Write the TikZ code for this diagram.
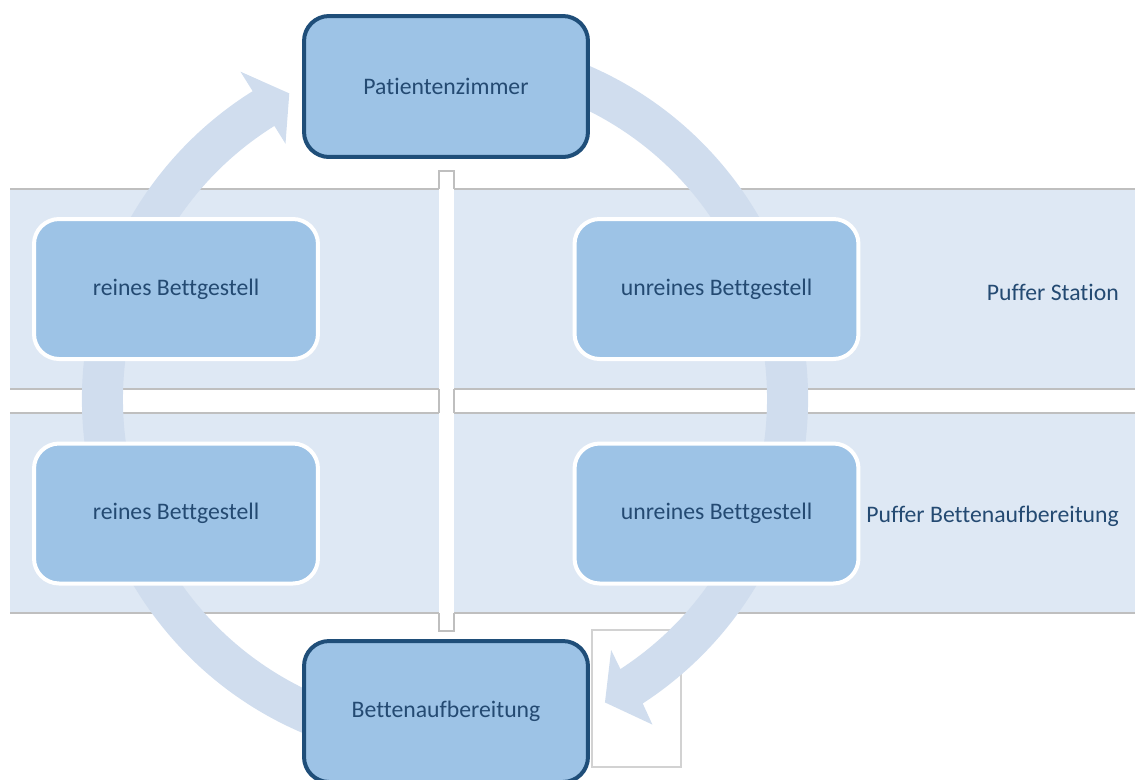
\documentclass[tikz,border=0pt]{standalone}
\usepackage{fontspec}
\setmainfont{Carlito}[Ligatures=NoCommon]
\usetikzlibrary{positioning}
\definecolor{bandblue}{RGB}{222,232,244}
\definecolor{ringblue}{RGB}{208,221,238}
\definecolor{boxblue}{RGB}{157,195,230}
\definecolor{navy}{RGB}{31,78,121}
\definecolor{textnavy}{RGB}{36,74,114}
\definecolor{rulegray}{RGB}{191,191,191}

\begin{document}
\begin{tikzpicture}[x=.02cm,y=-.02cm,
  every node/.style={font=\fontsize{13.5}{16}\selectfont,text=textnavy},
  stationbox/.style={draw=navy,line width=.08cm,fill=boxblue,rounded corners=.5cm,minimum width=5.68cm,minimum height=2.82cm},
  bufferbox/.style={draw=white,line width=.08cm,fill=boxblue,rounded corners=.5cm,minimum width=5.68cm,minimum height=2.8cm},
  rule/.style={draw=rulegray,line width=.6pt}]
\useasboundingbox (0,0) rectangle (1135,779);

% the two buffer bands
\foreach \y in {189,413}{
  \fill[bandblue] (10,\y) rectangle (1135,\y+200);
  \draw[rule] (10,\y)--(1135,\y) (10,\y+200)--(1135,\y+200);
}

% empty frame beside the lower station
\draw[rule,draw=rulegray!70,fill=white] (592,630) rectangle (681,767);

% white divider through the bands
\fill[white] (439,171) rectangle (454,631);
\draw[rule] (439,189)--(439,171)--(454,171)--(454,189);
\draw[rule] (439,613)--(439,631)--(454,631)--(454,613);
\draw[rule] (439,389)--(439,413) (454,389)--(454,413);

% cycle arrows
\begin{scope}[shift={(445,399)}]
\fill[ringblue] (105:363) arc[start angle=105,end angle=238,radius=363]
  --(238:386)--(243:343)--(238:301)--(238:322)
  arc[start angle=238,end angle=105,radius=322]--cycle;
\fill[ringblue] (285:363) arc[start angle=285,end angle=417,radius=363]
  --(417.5:386)--(422.2:343)--(416.5:301)--(417:322)
  arc[start angle=417,end angle=285,radius=322]--cycle;
\end{scope}

\node[stationbox] (zimmer) at (446,86.5) {Patientenzimmer};
\node[stationbox] (aufbereitung) at (446,711.5) {Bettenaufbereitung};

\node[bufferbox] (reinS) at (176,289) {reines Bettgestell};
\node[bufferbox] (unreinS) at (716.5,289) {unreines Bettgestell};
\node[bufferbox] (reinB) at (176,513.5) {reines Bettgestell};
\node[bufferbox] (unreinB) at (716.5,513.5) {unreines Bettgestell};

\node[anchor=east] (station) at (1125,292) {Puffer Station};
\node[anchor=east] (bettenpuffer) at (1125,516) {Puffer Bettenaufbereitung};
\end{tikzpicture}
\end{document}
